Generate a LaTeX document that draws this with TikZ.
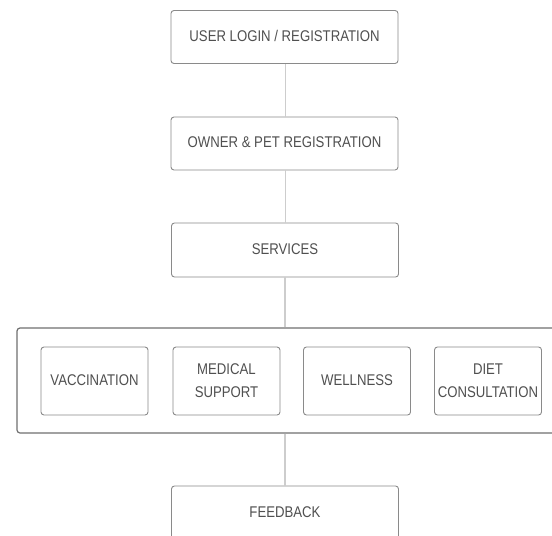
\documentclass[tikz,border=0pt]{standalone}
\usepackage{fontspec}
\newfontfamily\labfont[FakeStretch=0.85]{Liberation Sans}
\definecolor{boxline}{HTML}{8A8A8A}
\definecolor{groupline}{HTML}{707070}
\definecolor{conn}{HTML}{CDCDCD}
\definecolor{txt}{HTML}{505050}
\begin{document}
\begin{tikzpicture}[x=1bp,y=-1bp,
  stepbox/.style={draw=boxline, line width=0.9bp, rounded corners=3bp, fill=white,
    minimum width=227bp, minimum height=53bp, inner sep=0pt, text=txt,
    font=\labfont\fontsize{15.5bp}{23bp}\selectfont, align=center},
  subbox/.style={stepbox, minimum width=107bp, minimum height=68bp},
  groupbox/.style={draw=groupline, line width=1.2bp, rounded corners=3bp,
    minimum width=541bp, minimum height=105bp, inner sep=0pt},
  link/.style={draw=conn, line width=1.8bp}]
\useasboundingbox (0,0) rectangle (552,536);
\clip (0,0) rectangle (552,536);
\fill[white] (0,0) rectangle (552,536);
% container
\node[groupbox] (group) at (287.5,380.5) {};
% main steps
\node[stepbox] (login) at (284.5,37) {\raisebox{2bp}{USER LOGIN / REGISTRATION}};
\node[stepbox] (owner) at (284.5,143.5) {\raisebox{2bp}{OWNER \& PET REGISTRATION}};
\node[stepbox, minimum height=54bp] (services) at (285,250) {\raisebox{2bp}{SERVICES}};
\node[stepbox, minimum height=54bp] (feedback) at (285,513) {\raisebox{2bp}{FEEDBACK}};
% sub services
\node[subbox] (vacc) at (94.5,381) {\raisebox{2bp}{VACCINATION}};
\node[subbox] (med) at (226.5,381) {MEDICAL\\SUPPORT};
\node[subbox] (well) at (357,381) {\raisebox{2bp}{WELLNESS}};
\node[subbox] (diet) at (488,381) {DIET\\CONSULTATION};
% connectors
\draw[link] ([xshift=1bp]login.south) -- ([xshift=1bp]owner.north);
\draw[link] ([xshift=1bp]owner.south) -- ([xshift=1bp]owner.south |- services.north);
\draw[link] (services.south) -- (services.south |- group.north);
\draw[link] (services.south |- group.south) -- (feedback.north);
\end{tikzpicture}
\end{document}
